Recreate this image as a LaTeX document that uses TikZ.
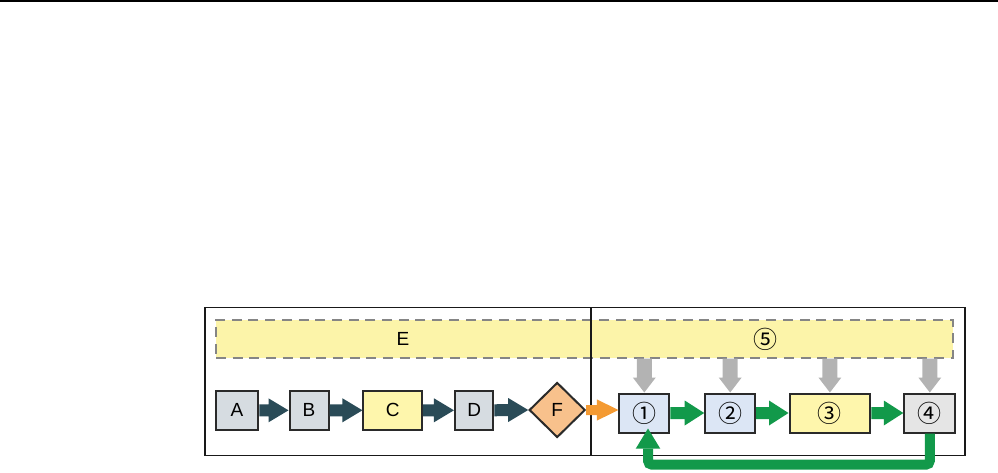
\documentclass[tikz,border=0pt]{standalone}
\usepackage{fontspec}
\setmainfont{Liberation Sans}
\newfontfamily\circfont{Noto Sans CJK SC}
\usetikzlibrary{shapes.geometric,calc}
\definecolor{boxline}{HTML}{2A2A2A}
\definecolor{bandfill}{HTML}{FCF4A9}
\definecolor{yelfill}{HTML}{FEF6AC}
\definecolor{grayblue}{HTML}{D6DCE1}
\definecolor{lightblue}{HTML}{DCE6F5}
\definecolor{lightgray}{HTML}{E5E5E5}
\definecolor{peach}{HTML}{F8C18C}
\definecolor{darkarr}{HTML}{2A4B57}
\definecolor{orangearr}{HTML}{F49A32}
\definecolor{greenarr}{HTML}{12994A}
\definecolor{grayarr}{HTML}{B3B3B3}
\definecolor{dashgray}{HTML}{858585}
\tikzset{
  box/.style={draw=boxline, line width=2pt, minimum height=39pt, inner sep=0pt,
    font=\fontsize{19}{21}\selectfont},
  cbox/.style={box, font=\circfont\fontsize{24}{26}\selectfont},
  band/.style={fill=bandfill, draw=dashgray, line width=2pt, dash pattern=on 10pt off 6.7pt},
  lbl/.style={inner sep=0pt, font=\fontsize{19}{21}\selectfont},
  clbl/.style={inner sep=0pt, font=\circfont\fontsize{24}{26}\selectfont},
}
% horizontal block arrow: style, start, tip, half shaft, half head, head length
\newcommand\hblock[6]{%
  \fill[#1] ($(#2)+(0,-#4)$) -- ($(#3)+(-#6,-#4)$) -- ($(#3)+(-#6,-#5)$) -- (#3)
    -- ($(#3)+(-#6,#5)$) -- ($(#3)+(-#6,#4)$) -- ($(#2)+(0,#4)$) -- cycle;}
% vertical (downward) block arrow
\newcommand\vblock[6]{%
  \fill[#1] ($(#2)+(-#4,0)$) -- ($(#3)+(-#4,-#6)$) -- ($(#3)+(-#5,-#6)$) -- (#3)
    -- ($(#3)+(#5,-#6)$) -- ($(#3)+(#4,-#6)$) -- ($(#2)+(#4,0)$) -- cycle;}
\begin{document}
\begin{tikzpicture}[x=1pt,y=-1pt]
\useasboundingbox (0,0) rectangle (998,473);
% top rule
\coordinate (tl) at (0,1);
\coordinate (tr) at (998,1);
\draw[line width=1.6pt] (tl) -- (tr);
% outer frame
\node[draw=black!90, line width=1.6pt, minimum width=760pt, minimum height=148pt, inner sep=0pt] (frame) at (585,381.3) {};
% band
\node[band, minimum width=737pt, minimum height=38pt, inner sep=0pt] (band) at (584.5,338.7) {};
\node[lbl] (E) at (403,339) {E};
\node[clbl] (five) at (765,339.5) {⑤};
% divider
\coordinate (dtop) at (591,307.2);
\coordinate (dbot) at (591,455.4);
\draw[line width=1.3pt, black!90] (dtop) -- (dbot);
% left boxes
\node[box, fill=grayblue, minimum width=42.5pt] (A) at (237,410.3) {A};
\node[box, fill=grayblue, minimum width=39pt] (B) at (309,410.3) {B};
\node[box, fill=yelfill, minimum width=58.5pt] (C) at (392.7,410.3) {C};
\node[box, fill=grayblue, minimum width=38.5pt] (D) at (474.2,410.3) {D};
\node[draw=boxline, line width=2pt, diamond, fill=peach, minimum width=56pt, minimum height=55pt, inner sep=0pt,
  font=\fontsize{19}{21}\selectfont] (F) at (557.2,410) {F};
% right boxes
\node[cbox, fill=lightblue, minimum width=50pt] (n1) at (644.3,413) {①};
\node[cbox, fill=lightblue, minimum width=50pt] (n2) at (730.2,413) {②};
\node[cbox, fill=yelfill, minimum width=80.8pt] (n3) at (829.9,413) {③};
\node[cbox, fill=lightgray, minimum width=51pt] (n4) at (929.8,413) {④};
% arrows left
\hblock{darkarr}{A.east}{B.west}{6}{12}{20}
\hblock{darkarr}{B.east}{C.west}{6}{12}{20}
\hblock{darkarr}{C.east}{D.west}{6}{12}{20}
\hblock{darkarr}{D.east}{F.west}{6}{12}{20}
\coordinate (otip) at (n1.west |- F.east);
\hblock{orangearr}{F.east}{otip}{5}{10.7}{21.5}
% arrows right
\hblock{greenarr}{n1.east}{n2.west}{6}{12.5}{19.5}
\hblock{greenarr}{n2.east}{n3.west}{6}{12.5}{19.5}
\hblock{greenarr}{n3.east}{n4.west}{6}{12.5}{19.5}
% gray arrows
\coordinate (g1) at (band.south -| n1);
\coordinate (g2) at (band.south -| n2);
\coordinate (g3) at (band.south -| n3);
\coordinate (g4) at (band.south -| n4);
\vblock{grayarr}{g1}{n1.north}{7.5}{11.5}{15}
\vblock{grayarr}{g2}{n2.north}{7.5}{11.5}{15}
\vblock{grayarr}{g3}{n3.north}{7.5}{11.5}{15}
\vblock{grayarr}{g4}{n4.north}{7.5}{11.5}{15}
% feedback
\coordinate (fbL) at (648,464.7);
\coordinate (fbtip) at (648,428.5);
\coordinate (fbbase) at (648,448.5);
\draw[greenarr, line width=10pt, rounded corners=4pt] (n4.south) |- (fbL) -- (fbbase);
\fill[greenarr] (fbtip) -- ($(fbbase)+(-12.3,0.2)$) -- ($(fbbase)+(12.3,0.2)$) -- cycle;
\end{tikzpicture}
\end{document}
